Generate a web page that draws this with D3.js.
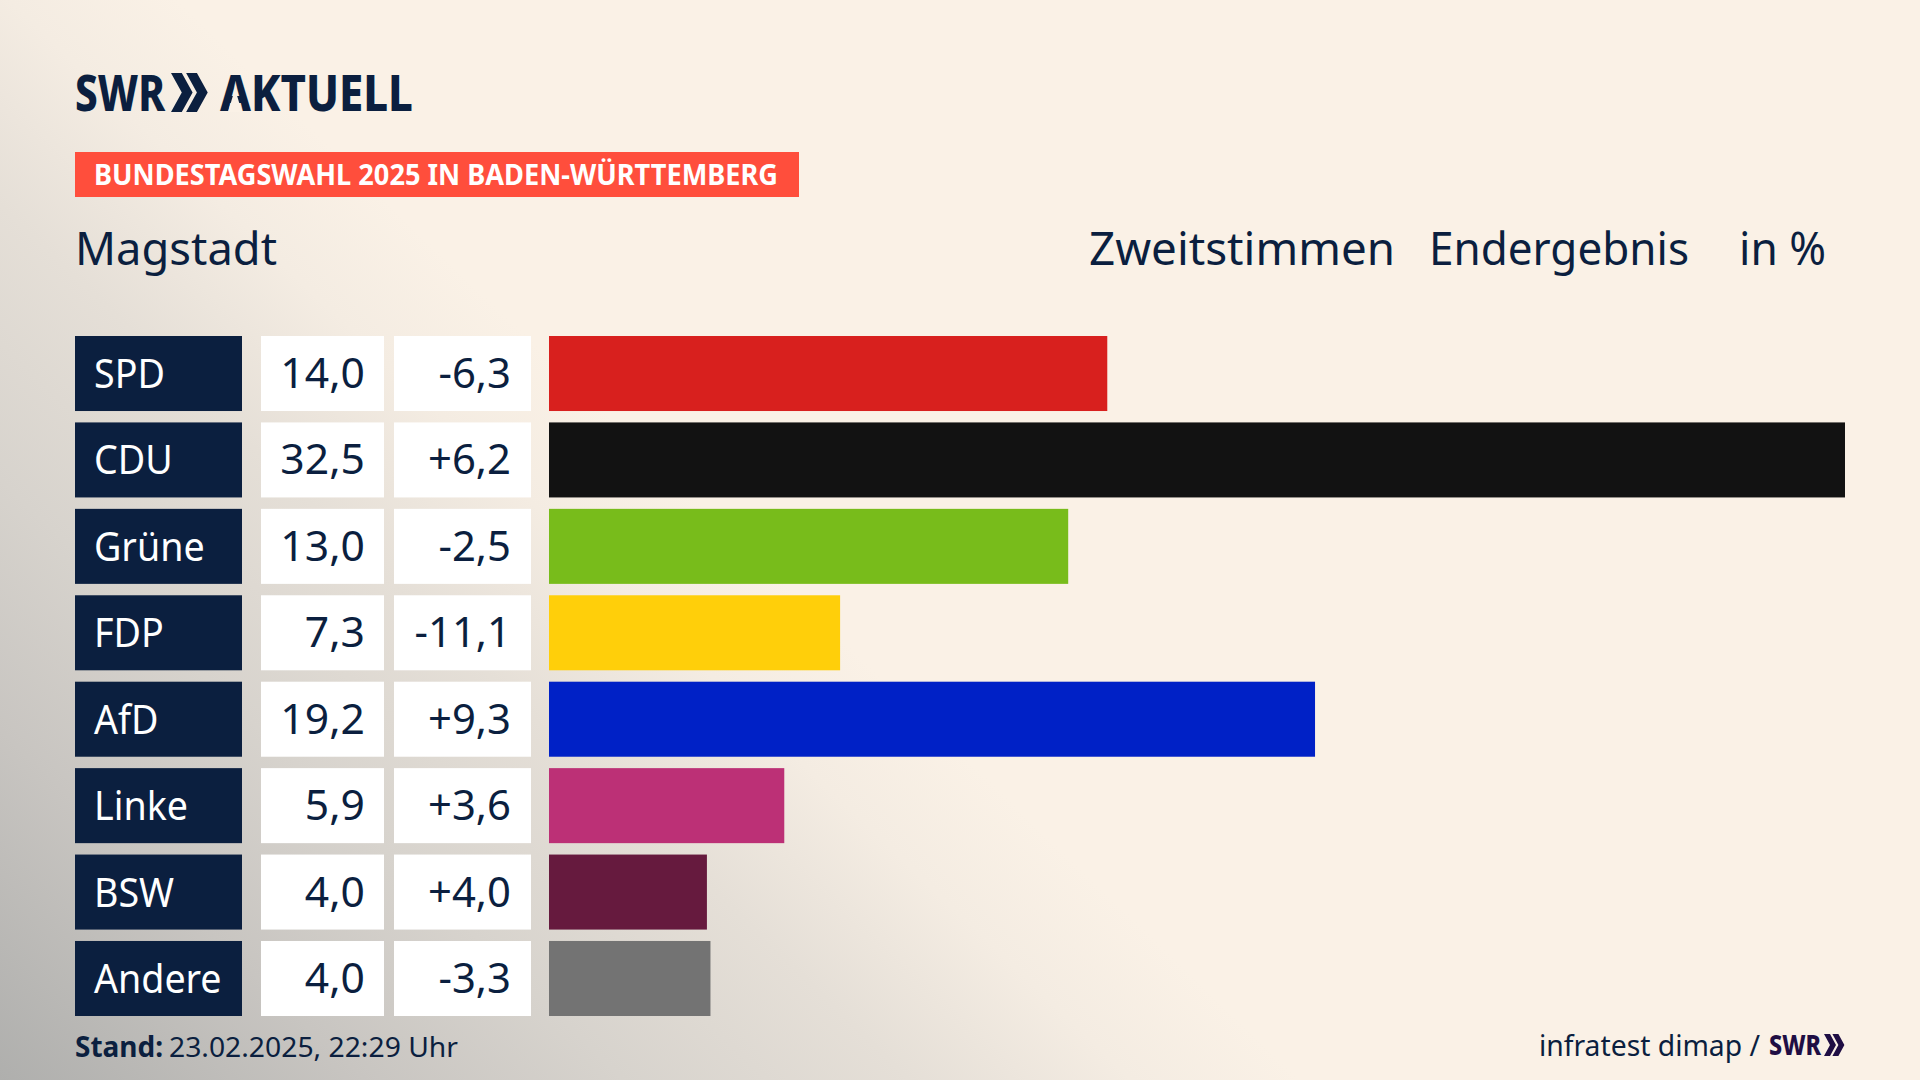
<!DOCTYPE html>
<html>
<head>
<meta charset="utf-8">
<script src="https://cdn.jsdelivr.net/npm/d3@7"></script>
<style>
  html, body { margin: 0; padding: 0; background: #faf1e6; }
  svg { display: block; }
  text { font-family: "Noto Sans", sans-serif; }
</style>
</head>
<body>
<div id="vis"></div>
<script>
// chart data
const PARTIES = ["SPD", "CDU", "Grüne", "FDP", "AfD", "Linke", "BSW", "Andere"];
const SHARES = [14.0, 32.5, 13.02, 7.3, 19.21, 5.9, 3.96, 4.049];
const CHANGES = [-6.3, 6.2, -2.5, -11.1, 9.3, 3.6, 4.0, -3.3];
const PARTY_COLORS = ["#d8201e", "#121212", "#78bc1b", "#ffcf0a", "#0021c6", "#bc3076", "#661a3e", "#737373"];

// frame constants
const FRAME_WIDTH = 1920;
const FRAME_HEIGHT = 1080;
const NAVY = "#0b1f3f";
const PAPER = "#faf1e6";

// german number formats, with plain hyphen as minus
const LOCALE = d3.formatLocale({decimal: ",", thousands: ".", grouping: [3], currency: ["", " €"], minus: "-"});
const FORMAT_SHARE = LOCALE.format(".1f");
const FORMAT_CHANGE = LOCALE.format("+.1f");

const FRAME = d3.select("#vis")
                .append("svg")
                  .attr("width", FRAME_WIDTH)
                  .attr("height", FRAME_HEIGHT);

// background shade, diagonal from the lower left corner
const DEFS = FRAME.append("defs");
const GLOW = DEFS.append("linearGradient")
                 .attr("id", "glow")
                 .attr("gradientUnits", "userSpaceOnUse")
                 .attr("x1", 0).attr("y1", 1080)
                 .attr("x2", 625).attr("y2", 430);
[[0, "#afafad"], [0.28, "#c8c5c1"], [0.48, "#d7d3cd"], [0.7, "#e5dfd7"], [0.87, "#f4ece2"], [1, PAPER]].forEach((s) => {
  GLOW.append("stop").attr("offset", s[0]).attr("stop-color", s[1]);
});

FRAME.append("rect")
     .attr("width", FRAME_WIDTH)
     .attr("height", FRAME_HEIGHT)
     .attr("fill", "url(#glow)");

// scales
const Y_SCALE = d3.scaleBand()
                  .domain(PARTIES)
                  .range([336, 1016])
                  .paddingInner(0.132);
const X_SCALE = d3.scaleLinear()
                  .domain([0, d3.max(SHARES)])
                  .range([549, 1845]);

// helper for one line of text, squeezed to the given width
function addText(x, y, str, size, weight, color, anchor, width) {
  const t = FRAME.append("text")
                 .attr("x", x)
                 .attr("y", y)
                 .attr("font-size", size)
                 .attr("font-weight", weight)
                 .attr("fill", color)
                 .attr("text-anchor", anchor)
                 .text(str);
  if (width) {
    t.attr("textLength", width).attr("lengthAdjust", "spacingAndGlyphs");
  }
  return t;
}

// same, but scales the natural width by a factor
function addFitText(x, y, str, size, weight, color, anchor, factor) {
  const t = addText(x, y, str, size, weight, color, anchor);
  t.attr("textLength", t.node().getComputedTextLength() * factor)
   .attr("lengthAdjust", "spacingAndGlyphs");
  return t;
}

// double chevron of the logo
function addChevrons(x, y, w, h, color) {
  const arm = w * 0.6;
  const gap = w * 0.42;
  [0, gap].forEach((dx) => {
    FRAME.append("path")
         .attr("d", d3.line()([
            [x + dx, y],
            [x + dx + arm * 0.5, y],
            [x + dx + arm, y + h / 2],
            [x + dx + arm * 0.5, y + h],
            [x + dx, y + h],
            [x + dx + arm * 0.5, y + h / 2]
         ]) + "Z")
         .attr("fill", color);
  });
}

// logo
addText(75, 111, "SWR", 50, 800, NAVY, "start", 90);
addChevrons(171, 73, 36, 39, NAVY);
addText(220, 111, "AKTUELL", 50, 800, NAVY, "start", 193);
// the logo's A has no crossbar
FRAME.append("path")
     .attr("d", d3.line()([[235, 89], [242, 112], [228, 112]]) + "Z")
     .attr("fill", PAPER);

// red title bar
FRAME.append("rect")
     .attr("x", 75).attr("y", 152)
     .attr("width", 724).attr("height", 45)
     .attr("fill", "#ff4e3c");
addText(94, 185, "BUNDESTAGSWAHL 2025 IN BADEN-WÜRTTEMBERG", 28, 700, "#ffffff", "start", 684);

// headline row
addText(75, 265, "Magstadt", 46, 400, NAVY, "start", 202);
addText(1089, 265, "Zweitstimmen", 46, 400, NAVY, "start", 306);
addText(1429, 265, "Endergebnis", 46, 400, NAVY, "start", 260);
addText(1739, 265, "in %", 46, 400, NAVY, "start", 87);

// party label boxes
FRAME.selectAll(".label-box")
     .data(PARTIES)
     .enter()
     .append("rect")
       .attr("class", "label-box")
       .attr("x", 75)
       .attr("y", (d) => { return Y_SCALE(d); })
       .attr("width", 167)
       .attr("height", Y_SCALE.bandwidth())
       .attr("fill", NAVY);

// white boxes for the numbers
[[261, 123], [394, 137]].forEach((box) => {
  FRAME.selectAll(".num-box-" + box[0])
       .data(PARTIES)
       .enter()
       .append("rect")
         .attr("class", "num-box-" + box[0])
         .attr("x", box[0])
         .attr("y", (d) => { return Y_SCALE(d); })
         .attr("width", box[1])
         .attr("height", Y_SCALE.bandwidth())
         .attr("fill", "#ffffff");
});

// bars
FRAME.selectAll(".bar")
     .data(PARTIES)
     .enter()
     .append("rect")
       .attr("class", "bar")
       .attr("x", X_SCALE(0))
       .attr("y", (d) => { return Y_SCALE(d); })
       .attr("width", (d, i) => { return X_SCALE(SHARES[i]) - X_SCALE(0); })
       .attr("height", Y_SCALE.bandwidth())
       .attr("fill", (d, i) => { return PARTY_COLORS[i]; });

// row texts
PARTIES.forEach((party, i) => {
  const baseline = Y_SCALE(party) + 52;
  addFitText(94, baseline, party, 40, 400, "#ffffff", "start", 0.94);
  addFitText(365, baseline, FORMAT_SHARE(SHARES[i]), 41, 400, NAVY, "end", 1.04);
  addFitText(511, baseline, FORMAT_CHANGE(CHANGES[i]), 41, 400, NAVY, "end", 1.02);
});

// footer
addText(75, 1057, "Stand:", 28, 700, NAVY, "start", 88);
addText(169, 1057, "23.02.2025, 22:29 Uhr", 28, 400, NAVY, "start", 289);
addText(1539, 1056, "infratest dimap /", 29, 400, NAVY, "start", 221);
addText(1769, 1055, "SWR", 28, 800, "#1f0e44", "start", 52);
addChevrons(1824, 1034, 20, 22, "#1f0e44");
</script>
</body>
</html>
